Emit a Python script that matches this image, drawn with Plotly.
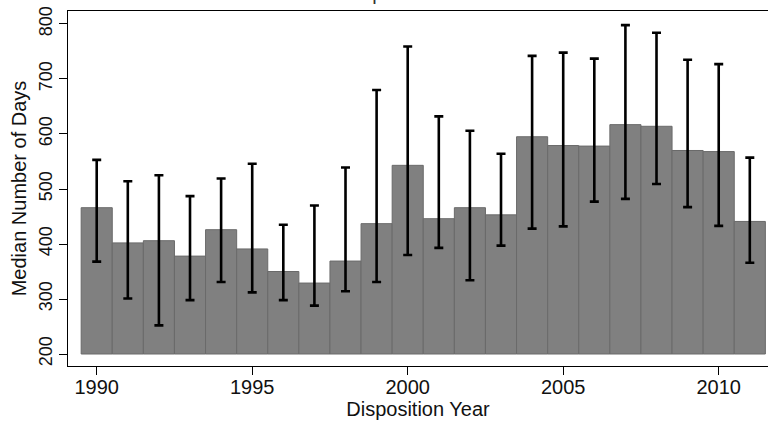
import plotly.graph_objects as go

years = list(range(1990, 2012))
median_days = [466, 402, 406, 378, 426, 391, 350, 329, 369, 437, 543,
               446, 466, 453, 595, 579, 578, 617, 614, 570, 568, 441]
upper = [553, 514, 525, 487, 519, 546, 435, 470, 539, 680, 759,
         632, 606, 564, 742, 748, 737, 798, 784, 735, 727, 557]
lower = [368, 301, 252, 298, 331, 312, 298, 288, 314, 331, 380,
         393, 334, 397, 428, 432, 477, 482, 509, 467, 433, 366]
x_ticks = [1990, 1995, 2000, 2005, 2010]
y_ticks = [200, 300, 400, 500, 600, 700, 800]
base_value = 200
title_text = "Median Time to Disposition for All Cases"

err_plus = [u - m for u, m in zip(upper, median_days)]
err_minus = [m - l for m, l in zip(median_days, lower)]

fig = go.Figure()
fig.add_trace(go.Bar(
    x=years,
    y=[m - base_value for m in median_days],
    base=base_value,
    width=1,
    marker=dict(color="#808080", line=dict(color="#6a6a6a", width=1)),
    error_y=dict(type="data", symmetric=False, array=err_plus, arrayminus=err_minus,
                 color="black", thickness=2.6, width=4.5),
    showlegend=False,
))

font_family = "Liberation Sans, Arial, sans-serif"
fig.add_annotation(text=title_text, xref="paper", yref="paper", x=0.445, y=1,
                   xanchor="center", yanchor="bottom", yshift=5, showarrow=False,
                   font=dict(size=20, family=font_family, color="#333333"))
fig.update_layout(
    width=768, height=422,
    margin=dict(l=68, r=0, t=11, b=56),
    paper_bgcolor="white", plot_bgcolor="white",
    font=dict(family=font_family, color="#111111"),
    xaxis=dict(range=[1989.077, 2011.585], tickmode="array", tickvals=x_ticks,
               ticks="outside", ticklen=8, tickwidth=1, tickcolor="black",
               showline=True, linecolor="black", linewidth=1.2, mirror=True,
               showgrid=False, zeroline=False, automargin=False,
               tickfont=dict(size=20), ticklabelstandoff=-5,
               title=dict(text="Disposition Year", font=dict(size=20), standoff=0)),
    yaxis=dict(range=[178.2, 823.6], tickmode="array", tickvals=y_ticks,
               ticks="outside", ticklen=8, tickwidth=1, tickcolor="black",
               showline=True, linecolor="black", linewidth=1.2, mirror=False,
               showgrid=False, zeroline=False, tickangle=-90, automargin=False,
               ticklabeloverflow="allow",
               tickfont=dict(size=18),
               title=dict(text="Median Number of Days", font=dict(size=20), standoff=3)),
)

fig.write_html("out.html", config={"displayModeBar": False},
               post_script="document.body.style.margin='0px';")
